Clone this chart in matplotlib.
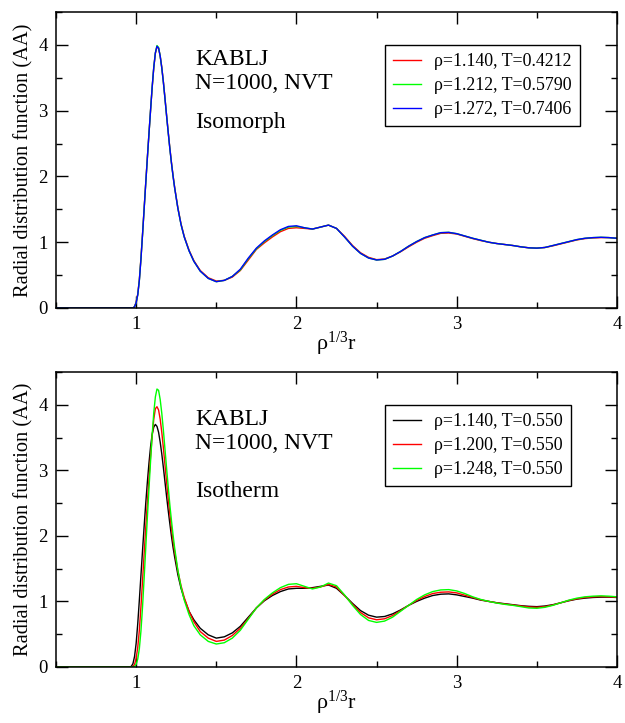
import matplotlib
matplotlib.use("Agg")
import matplotlib.pyplot as plt
from matplotlib.ticker import MultipleLocator

plt.rcParams['font.family'] = ['Liberation Serif', 'DejaVu Serif']
plt.rcParams['mathtext.fontset'] = 'custom'
plt.rcParams['mathtext.rm'] = 'Liberation Serif'

# reduced distance rho^(1/3) r
x = [0.50, 0.96, 0.97, 0.98, 0.99, 1.00, 1.01, 1.02, 1.03, 1.04, 1.05, 1.06,
     1.07, 1.08, 1.09, 1.10, 1.11, 1.12, 1.13, 1.14, 1.15, 1.16, 1.17, 1.18,
     1.19, 1.20, 1.21, 1.22, 1.23, 1.24, 1.26, 1.28, 1.30, 1.33, 1.36, 1.40,
     1.45,
     1.50, 1.55, 1.60, 1.65, 1.70, 1.75, 1.80, 1.85, 1.90, 1.95, 2.00, 2.05,
     2.10, 2.15, 2.20, 2.25, 2.30, 2.35, 2.40, 2.45, 2.50, 2.55, 2.60, 2.65,
     2.70, 2.75, 2.80, 2.85, 2.90, 2.95, 3.00, 3.05, 3.10, 3.15, 3.20, 3.25,
     3.30, 3.35, 3.40, 3.45, 3.50, 3.55, 3.60, 3.65, 3.70, 3.75, 3.80, 3.85,
     3.90, 3.95, 4.00]

# isomorph
g_iso_1140 = [0, 0, 0, 0, 0.02, 0.09, 0.21, 0.43, 0.76, 1.13, 1.52, 1.91,
              2.29, 2.65, 3.01, 3.35, 3.65, 3.87, 3.97, 3.95, 3.83, 3.66, 3.44,
              3.19, 2.93, 2.68, 2.44, 2.22, 2.02, 1.84, 1.53, 1.28, 1.09, 0.88,
              0.72, 0.57, 0.46,
              0.41, 0.42, 0.47, 0.57, 0.73, 0.89, 0.99, 1.08, 1.16, 1.21, 1.22,
              1.21, 1.20, 1.23, 1.26, 1.21, 1.09, 0.95, 0.84, 0.77, 0.735,
              0.745, 0.79, 0.855, 0.93, 1.00, 1.06, 1.10, 1.135, 1.14, 1.125,
              1.09, 1.055, 1.025, 1.00, 0.98, 0.965, 0.95, 0.93, 0.915, 0.91,
              0.92, 0.945, 0.975, 1.005, 1.035, 1.055, 1.065, 1.07, 1.07, 1.06]
g_iso_1212 = [0, 0, 0, 0, 0.02, 0.08, 0.20, 0.42, 0.75, 1.12, 1.51, 1.90,
              2.28, 2.65, 3.01, 3.36, 3.66, 3.88, 3.99, 3.96, 3.83, 3.65, 3.43,
              3.18, 2.92, 2.67, 2.43, 2.21, 2.01, 1.83, 1.52, 1.27, 1.08, 0.87,
              0.71, 0.56, 0.45,
              0.40, 0.42, 0.48, 0.58, 0.75, 0.90, 1.01, 1.10, 1.18, 1.23, 1.24,
              1.22, 1.20, 1.23, 1.26, 1.21, 1.08, 0.94, 0.83, 0.76, 0.73,
              0.74, 0.79, 0.86, 0.94, 1.01, 1.07, 1.11, 1.145, 1.15, 1.13,
              1.095, 1.06, 1.03, 1.00, 0.98, 0.965, 0.95, 0.93, 0.915, 0.91,
              0.92, 0.95, 0.98, 1.01, 1.04, 1.06, 1.07, 1.075, 1.07, 1.06]
g_iso_1272 = [0, 0, 0, 0, 0.02, 0.08, 0.20, 0.42, 0.74, 1.12, 1.51, 1.90,
              2.28, 2.65, 3.01, 3.36, 3.66, 3.88, 3.98, 3.95, 3.83, 3.65, 3.43,
              3.18, 2.92, 2.67, 2.43, 2.21, 2.01, 1.83, 1.52, 1.27, 1.08, 0.87,
              0.71, 0.56, 0.45,
              0.40, 0.42, 0.48, 0.59, 0.76, 0.91, 1.02, 1.11, 1.19, 1.24, 1.25,
              1.22, 1.20, 1.23, 1.26, 1.21, 1.08, 0.94, 0.83, 0.76, 0.73,
              0.74, 0.79, 0.86, 0.94, 1.01, 1.07, 1.11, 1.145, 1.15, 1.13,
              1.095, 1.06, 1.03, 1.00, 0.98, 0.965, 0.95, 0.93, 0.915, 0.91,
              0.92, 0.95, 0.98, 1.01, 1.04, 1.06, 1.07, 1.075, 1.07, 1.06]

# isotherm T=0.550
g_T_1140 = [0, 0, 0.01, 0.05, 0.16, 0.36, 0.66, 1.02, 1.40, 1.78, 2.15, 2.50,
            2.82, 3.11, 3.36, 3.55, 3.66, 3.70, 3.67, 3.58, 3.43, 3.25, 3.04,
            2.82, 2.60, 2.39, 2.19, 2.00, 1.83, 1.68, 1.41, 1.20, 1.04, 0.85,
            0.72, 0.59, 0.49,
            0.44, 0.46, 0.52, 0.62, 0.76, 0.90, 1.01, 1.09, 1.15, 1.19, 1.20,
            1.20, 1.21, 1.23, 1.25, 1.20, 1.09, 0.97, 0.86, 0.79, 0.76, 0.77,
            0.81, 0.87, 0.94, 1.00, 1.05, 1.09, 1.11, 1.115, 1.10, 1.075, 1.05,
            1.02, 1.00, 0.98, 0.965, 0.95, 0.935, 0.925, 0.92, 0.93, 0.95,
            0.98, 1.01, 1.035, 1.05, 1.06, 1.065, 1.065, 1.06]
g_T_1200 = [0, 0, 0, 0.01, 0.04, 0.13, 0.30, 0.56, 0.92, 1.32, 1.73, 2.13,
            2.51, 2.87, 3.21, 3.52, 3.78, 3.94, 3.97, 3.92, 3.78, 3.58, 3.34,
            3.08, 2.82, 2.57, 2.34, 2.12, 1.93, 1.76, 1.47, 1.24, 1.06, 0.85,
            0.69, 0.54, 0.44,
            0.39, 0.41, 0.48, 0.59, 0.74, 0.90, 1.02, 1.11, 1.18, 1.22, 1.23,
            1.21, 1.20, 1.22, 1.26, 1.22, 1.09, 0.955, 0.83, 0.75, 0.72, 0.735,
            0.785, 0.86, 0.94, 1.015, 1.075, 1.12, 1.14, 1.145, 1.13, 1.095,
            1.06, 1.025, 1.00, 0.978, 0.96, 0.945, 0.93, 0.915, 0.91, 0.92,
            0.945, 0.98, 1.015, 1.04, 1.06, 1.07, 1.075, 1.07, 1.065]
g_T_1248 = [0, 0, 0, 0, 0.01, 0.04, 0.12, 0.28, 0.55, 0.92, 1.36, 1.82,
            2.28, 2.72, 3.14, 3.54, 3.88, 4.12, 4.24, 4.22, 4.08, 3.87, 3.61,
            3.32, 3.03, 2.75, 2.48, 2.24, 2.02, 1.82, 1.48, 1.22, 1.02, 0.80,
            0.63, 0.49, 0.39,
            0.35, 0.37, 0.44, 0.56, 0.73, 0.90, 1.03, 1.13, 1.21, 1.26, 1.27,
            1.23, 1.19, 1.22, 1.28, 1.24, 1.10, 0.94, 0.80, 0.71, 0.68, 0.70,
            0.76, 0.85, 0.94, 1.03, 1.10, 1.15, 1.175, 1.18, 1.16, 1.12, 1.07,
            1.03, 1.00, 0.975, 0.955, 0.94, 0.92, 0.90, 0.895, 0.91, 0.94,
            0.98, 1.02, 1.05, 1.07, 1.08, 1.085, 1.08, 1.07]

iso_labels = ['ρ=1.140, T=0.4212', 'ρ=1.212, T=0.5790', 'ρ=1.272, T=0.7406']
T_labels = ['ρ=1.140, T=0.550', 'ρ=1.200, T=0.550', 'ρ=1.248, T=0.550']

fig = plt.figure(figsize=(6.25, 7.23), dpi=100)
ax1 = fig.add_axes([0.0896, 0.574, 0.8976, 0.4094])
ax2 = fig.add_axes([0.0896, 0.0775, 0.8976, 0.408])

panels = [
    (ax1, [g_iso_1140, g_iso_1212, g_iso_1272], iso_labels,
     ['#ff0000', '#00ff00', '#0000ff'], 'Isomorph', 0.608),
    (ax2, [g_T_1140, g_T_1200, g_T_1248], T_labels,
     ['#000000', '#ff0000', '#00ff00'], 'Isotherm', 0.577),
]

for ax, curves, labels, colors, name, name_y in panels:
    for g, lab, c in zip(curves, labels, colors):
        ax.plot(x, g, color=c, lw=1.0, label=lab)
    ax.set_xlim(0.5, 4.0)
    ax.set_ylim(0, 4.5)
    ax.xaxis.set_major_locator(MultipleLocator(1))
    ax.xaxis.set_minor_locator(MultipleLocator(0.5))
    ax.yaxis.set_major_locator(MultipleLocator(1))
    ax.yaxis.set_minor_locator(MultipleLocator(0.5))
    ax.tick_params(which='both', direction='in', top=True, right=True,
                   width=1.0, labelsize=13.5)
    ax.tick_params(which='major', length=8.5, pad=6)
    ax.tick_params(which='minor', length=4.5)
    for s in ax.spines.values():
        s.set_linewidth(1.1)
    ax.set_ylabel('Radial distribution function (AA)', fontsize=14.7)
    ax.yaxis.set_label_coords(-0.04, 0.5)
    ax.set_xlabel(r'$\mathregular{ρ^{1/3}r}$', fontsize=16)
    ax.xaxis.set_label_coords(0.5, -0.075)
    ax.text(0.248, 0.82, 'KABLJ', transform=ax.transAxes, fontsize=17,
            va='baseline')
    ax.text(0.248, 0.74, 'N=1000, NVT', transform=ax.transAxes, fontsize=17,
            va='baseline')
    ax.text(0.248, name_y, name, transform=ax.transAxes, fontsize=17,
            va='baseline')
    leg = ax.legend(loc='upper left', bbox_to_anchor=(0.586, 0.889),
                    borderaxespad=0, fancybox=False, framealpha=1,
                    edgecolor='black', fontsize=12.9, handlelength=1.6,
                    handletextpad=0.7, labelspacing=0.4, borderpad=0.45)
    leg.get_frame().set_linewidth(1.0)

fig.savefig('out.png', dpi=100)
